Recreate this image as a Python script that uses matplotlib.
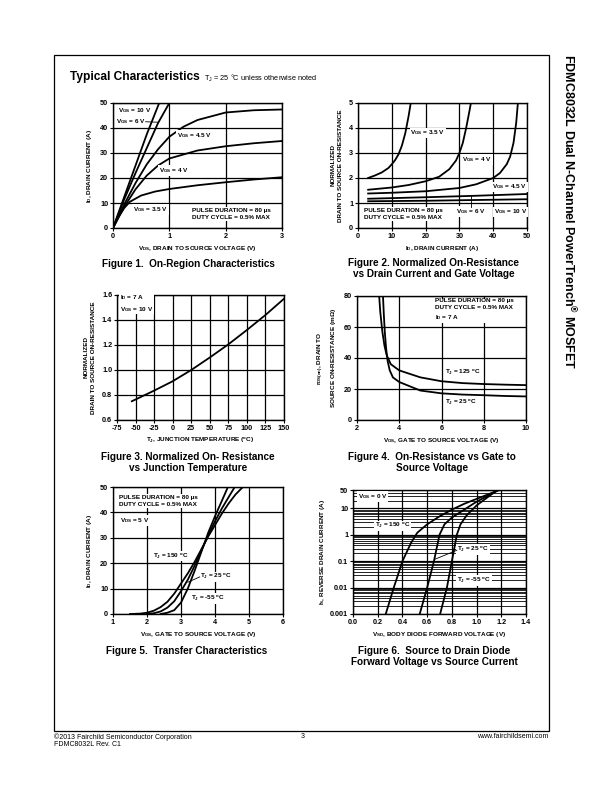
import numpy as np
import matplotlib
matplotlib.use('Agg')
import matplotlib.pyplot as plt
from matplotlib.patches import Rectangle

plt.rcParams['font.family'] = ['Liberation Sans', 'DejaVu Sans']
plt.rcParams['mathtext.fontset'] = 'custom'
plt.rcParams['mathtext.rm'] = 'Liberation Sans:bold'
plt.rcParams['mathtext.it'] = 'Liberation Sans:bold'
plt.rcParams['mathtext.bf'] = 'Liberation Sans:bold'
plt.rcParams['axes.unicode_minus'] = False

# ---- data ----
# fig 1: on-region
f1_vgs10_x = [0, 0.2, 0.4, 0.6, 0.82]
f1_vgs10_y = [0, 12.5, 25, 37.5, 50]
f1_vgs6_x = [0, 0.2, 0.4, 0.6, 0.8, 1.0]
f1_vgs6_y = [0, 11.5, 22, 32, 42, 50]
f1_vgs45_x = [0, 0.2, 0.4, 0.6, 0.8, 1.0, 1.25, 1.5, 2.0, 2.5, 3.0]
f1_vgs45_y = [0, 9.5, 18, 25.5, 31.5, 36.5, 40.5, 43.2, 46.2, 47.1, 47.4]
f1_vgs4_x = [0, 0.2, 0.4, 0.6, 0.8, 1.0, 1.5, 2.0, 2.5, 3.0]
f1_vgs4_y = [0, 8.5, 15.5, 21, 25, 27.8, 31, 32.7, 33.9, 34.8]
f1_vgs35_x = [0, 0.1, 0.2, 0.3, 0.5, 0.75, 1.0, 1.5, 2.0, 2.5, 3.0]
f1_vgs35_y = [0, 4.5, 8, 10.5, 13, 14.6, 15.6, 17.1, 18.3, 19.4, 20.3]

# fig 2: normalized rds(on) vs id
f2_vgs35_x = [3, 5, 7, 9, 10, 11, 12, 13, 14, 15, 15.6]
f2_vgs35_y = [2.0, 2.1, 2.22, 2.4, 2.55, 2.72, 2.95, 3.3, 3.8, 4.5, 5.0]
f2_vgs4_x = [3, 10, 15, 20, 24, 27, 29, 30, 31, 32, 33, 33.4]
f2_vgs4_y = [1.53, 1.62, 1.72, 1.87, 2.05, 2.35, 2.7, 3.0, 3.4, 4.0, 4.7, 5.0]
f2_vgs45_x = [3, 10, 20, 30, 35, 40, 42, 44, 45, 46, 46.8, 47.3]
f2_vgs45_y = [1.38, 1.41, 1.47, 1.6, 1.75, 2.0, 2.2, 2.55, 2.85, 3.4, 4.2, 5.0]
f2_vgs6_x = [3, 20, 35, 50]
f2_vgs6_y = [1.17, 1.23, 1.29, 1.36]
f2_vgs10_x = [3, 20, 35, 50]
f2_vgs10_y = [1.07, 1.09, 1.12, 1.15]

# fig 3: normalized rds(on) vs tj
f3_t = [-55, -25, 0, 25, 50, 75, 100, 125, 150]
f3_r = [0.75, 0.835, 0.91, 1.0, 1.1, 1.205, 1.32, 1.44, 1.57]

# fig 4: rds(on) vs vgs
f4_t125_x = [3.05, 3.1, 3.2, 3.3, 3.4, 3.6, 4, 5, 6, 7, 8, 9, 10]
f4_t125_y = [80, 70, 57, 48, 42, 36, 32, 27.5, 25, 23.8, 23.2, 22.8, 22.5]
f4_t25_x = [3.23, 3.27, 3.32, 3.38, 3.45, 3.55, 3.7, 4, 5, 6, 7, 8, 9, 10]
f4_t25_y = [80, 68, 56, 46, 38, 32, 27.5, 24.5, 19, 17.2, 16.4, 16, 15.5, 15.2]

# fig 5: transfer
f5_t150_x = [1.5, 1.8, 2.0, 2.2, 2.4, 2.6, 2.8, 3.0, 3.2, 3.4, 3.6, 3.8, 4.0, 4.2, 4.4, 4.6, 4.82]
f5_t150_y = [0, 0.15, 0.5, 1.3, 2.7, 4.8, 8, 12, 16, 20.5, 25.5, 30.5, 35, 39.5, 43.5, 47, 50]
f5_t25_x = [2.0, 2.2, 2.4, 2.6, 2.8, 3.0, 3.2, 3.4, 3.6, 3.8, 4.0, 4.2, 4.4, 4.58]
f5_t25_y = [0, 0.3, 1, 2.5, 5, 9, 13.5, 19, 25, 31, 36.5, 41.5, 46, 50]
f5_tm55_x = [2.4, 2.6, 2.8, 3.0, 3.2, 3.4, 3.6, 3.8, 4.0, 4.2, 4.38]
f5_tm55_y = [0, 0.5, 1.5, 4.5, 10, 17, 24.5, 32, 38.5, 44.5, 50]

# fig 6: body diode
f6_t150_x = [0.265, 0.33, 0.40, 0.47, 0.52, 0.6, 0.7, 0.8, 0.9, 1.0, 1.1, 1.18]
f6_t150_y = [0.001, 0.01, 0.1, 0.5, 1.2, 2.5, 5, 9, 15, 23, 35, 50]
f6_t25_x = [0.54, 0.60, 0.655, 0.70, 0.74, 0.8, 0.9, 1.0, 1.1, 1.18]
f6_t25_y = [0.001, 0.01, 0.1, 1, 2.5, 4.5, 9, 18, 32, 50]
f6_tm55_x = [0.705, 0.76, 0.80, 0.84, 0.87, 0.92, 1.0, 1.1, 1.17]
f6_tm55_y = [0.001, 0.01, 0.1, 1, 2.5, 5.5, 13, 29, 50]

W, H = 612, 792
fig = plt.figure(figsize=(W / 100, H / 100), dpi=100)

LW = 1.3
TK = 5.2     # tick font
LB = 4.6     # axis label font
AN = 4.6     # annotations
BOX = dict(facecolor='white', edgecolor='none', pad=0.6)


def axes_px(l, t, r, b):
    return fig.add_axes([l / W, 1 - b / H, (r - l) / W, (b - t) / H])


def style(ax):
    for s in ax.spines.values():
        s.set_linewidth(1.0)
    ax.grid(True, which='major', color='black', linewidth=0.9)
    ax.set_axisbelow(True)
    ax.tick_params(labelsize=TK, length=2, width=0.8, pad=1.5)
    for lab in ax.get_xticklabels() + ax.get_yticklabels():
        lab.set_fontweight('bold')


def note(ax, x, y, s, **kw):
    ax.text(x, y, s, fontsize=AN, fontweight='bold', bbox=BOX, zorder=5, **kw)


def caption(x, y, s):
    fig.text(x / W, 1 - y / H, s, fontsize=7.2, fontweight='bold', ha='center', va='top',
             linespacing=1.1)


# page frame and header
fig.patches.append(Rectangle((54 / W, 1 - 731 / H), (549 - 54) / W, (731 - 55) / H,
                             transform=fig.transFigure, fill=False, edgecolor='black', linewidth=0.9))
fig.text(70 / W, 1 - 77 / H, 'Typical Characteristics', fontsize=8.6, fontweight='bold', va='center')
fig.text(204 / W, 1 - 78 / H, r'T$_{\mathregular{J}}$ = 25 °C unless otherwise noted', fontsize=5.3, va='center')
fig.text(569 / W, 1 - 54 / H, 'FDMC8032L Dual N-Channel PowerTrench$^{\circledR}$ MOSFET', fontsize=9,
         fontweight='bold', rotation=-90, ha='center', va='top')
fig.text(54 / W, 1 - 737 / H, '©2013 Fairchild Semiconductor Corporation', fontsize=5, va='center')
fig.text(54 / W, 1 - 745 / H, 'FDMC8032L Rev. C1', fontsize=5, va='center')
fig.text(303 / W, 1 - 737 / H, '3', fontsize=5, va='center', ha='center')
fig.text(548 / W, 1 - 737 / H, 'www.fairchildsemi.com', fontsize=5, va='center', ha='right')

# ---- Figure 1 ----
ax = axes_px(113, 103, 282, 228)
for xs, ys in [(f1_vgs10_x, f1_vgs10_y), (f1_vgs6_x, f1_vgs6_y), (f1_vgs45_x, f1_vgs45_y),
               (f1_vgs4_x, f1_vgs4_y), (f1_vgs35_x, f1_vgs35_y)]:
    ax.plot(xs, ys, color='black', lw=LW, clip_on=True)
ax.set_xlim(0, 3)
ax.set_ylim(0, 50)
ax.set_xticks([0, 1, 2, 3])
ax.set_yticks([0, 10, 20, 30, 40, 50])
style(ax)
note(ax, 0.08, 46.8, r'V$_{\mathregular{GS}}$ = 10 V', va='center')
note(ax, 0.05, 42.5, r'V$_{\mathregular{GS}}$ = 6 V', va='center')
ax.plot([0.58, 0.8], [42.5, 42.3], color='black', lw=0.6, zorder=6)
note(ax, 1.14, 37, r'V$_{\mathregular{GS}}$ = 4.5 V', va='center')
note(ax, 0.82, 23, r'V$_{\mathregular{GS}}$ = 4 V', va='center')
note(ax, 0.35, 7.3, r'V$_{\mathregular{GS}}$ = 3.5 V', va='center')
note(ax, 1.4, 5.5, 'PULSE DURATION = 80 µs\nDUTY CYCLE = 0.5% MAX', va='center', linespacing=1.5)
ax.set_xlabel(r'V$_{\mathregular{DS}}$, DRAIN TO SOURCE VOLTAGE (V)', fontsize=LB, fontweight='bold', labelpad=3)
ax.set_ylabel(r'I$_{\mathregular{D}}$, DRAIN CURRENT (A)', fontsize=LB, fontweight='bold', labelpad=4)
caption(188, 259, 'Figure 1.  On-Region Characteristics')

# ---- Figure 2 ----
ax = axes_px(358, 103, 527, 228)
for xs, ys in [(f2_vgs35_x, f2_vgs35_y), (f2_vgs4_x, f2_vgs4_y), (f2_vgs45_x, f2_vgs45_y),
               (f2_vgs6_x, f2_vgs6_y), (f2_vgs10_x, f2_vgs10_y)]:
    ax.plot(xs, ys, color='black', lw=LW)
ax.set_xlim(0, 50)
ax.set_ylim(0, 5)
ax.set_xticks([0, 10, 20, 30, 40, 50])
ax.set_yticks([0, 1, 2, 3, 4, 5])
style(ax)
note(ax, 15.5, 3.8, r'V$_{\mathregular{GS}}$ = 3.5 V', va='center')
note(ax, 30.8, 2.73, r'V$_{\mathregular{GS}}$ = 4 V', va='center')
note(ax, 39.6, 1.64, r'V$_{\mathregular{GS}}$ = 4.5 V', va='center')
note(ax, 29, 0.67, r'V$_{\mathregular{GS}}$ = 6 V', va='center')
note(ax, 40.3, 0.64, r'V$_{\mathregular{GS}}$ = 10 V', va='center')
ax.plot([33.5, 33.5], [0.85, 1.27], color='black', lw=0.6, zorder=6)
note(ax, 1.7, 0.55, 'PULSE DURATION = 80 µs\nDUTY CYCLE = 0.5% MAX', va='center', linespacing=1.5)
ax.set_xlabel(r'I$_{\mathregular{D}}$, DRAIN CURRENT (A)', fontsize=LB, fontweight='bold', labelpad=3)
ax.set_ylabel('NORMALIZED\nDRAIN TO SOURCE ON-RESISTANCE', fontsize=LB, fontweight='bold', labelpad=4,
              linespacing=1.8)
caption(434, 258, 'Figure 2. Normalized On-Resistance\nvs Drain Current and Gate Voltage')

# ---- Figure 3 ----
ax = axes_px(117, 295, 284, 420)
ax.plot(f3_t, f3_r, color='black', lw=LW)
ax.set_xlim(-75, 150)
ax.set_ylim(0.6, 1.6)
ax.set_xticks(np.arange(-75, 151, 25))
ax.set_yticks([0.6, 0.8, 1.0, 1.2, 1.4, 1.6])
ax.set_yticklabels(['0.6', '0.8', '1.0', '1.2', '1.4', '1.6'])
style(ax)
note(ax, -71, 1.535, r'I$_{\mathregular{D}}$ = 7 A' + '\n' + r'V$_{\mathregular{GS}}$ = 10 V', va='center',
     linespacing=1.5)
ax.set_xlabel(r'T$_{\mathregular{J}}$, JUNCTION TEMPERATURE ($^{\mathregular{o}}$C)', fontsize=LB,
              fontweight='bold', labelpad=3)
ax.set_ylabel('NORMALIZED\nDRAIN TO SOURCE ON-RESISTANCE', fontsize=LB, fontweight='bold', labelpad=4,
              linespacing=1.8)
caption(188, 452, 'Figure 3. Normalized On- Resistance\nvs Junction Temperature')

# ---- Figure 4 ----
ax = axes_px(357, 296, 526, 420)
ax.plot(f4_t125_x, f4_t125_y, color='black', lw=LW)
ax.plot(f4_t25_x, f4_t25_y, color='black', lw=LW)
ax.set_xlim(2, 10)
ax.set_ylim(0, 80)
ax.set_xticks([2, 4, 6, 8, 10])
ax.set_yticks([0, 20, 40, 60, 80])
style(ax)
note(ax, 5.7, 71, 'PULSE DURATION = 80 µs\nDUTY CYCLE = 0.5% MAX\n' + r'I$_{\mathregular{D}}$ = 7 A',
     va='center', linespacing=1.5)
note(ax, 6.17, 30.7, r'T$_{\mathregular{J}}$ = 125 $^{\mathregular{o}}$C', va='center')
note(ax, 6.17, 11.4, r'T$_{\mathregular{J}}$ = 25 $^{\mathregular{o}}$C', va='center')
ax.set_xlabel(r'V$_{\mathregular{GS}}$, GATE TO SOURCE VOLTAGE (V)', fontsize=LB, fontweight='bold', labelpad=3)
ax.set_ylabel(r'r$_{\mathregular{DS(on)}}$, DRAIN TO' + '\n' + r'SOURCE ON-RESISTANCE (m$\mathregular{\Omega}$)',
              fontsize=LB, fontweight='bold', labelpad=4, linespacing=1.6)
caption(432, 452, 'Figure 4.  On-Resistance vs Gate to\nSource Voltage')

# ---- Figure 5 ----
ax = axes_px(113, 487, 283, 614)
for xs, ys in [(f5_t150_x, f5_t150_y), (f5_t25_x, f5_t25_y), (f5_tm55_x, f5_tm55_y)]:
    ax.plot(xs, ys, color='black', lw=LW)
ax.set_xlim(1, 6)
ax.set_ylim(0, 50)
ax.set_xticks([1, 2, 3, 4, 5, 6])
ax.set_yticks([0, 10, 20, 30, 40, 50])
style(ax)
note(ax, 1.18, 44.6, 'PULSE DURATION = 80 µs\nDUTY CYCLE = 0.5% MAX', va='center', linespacing=1.5)
note(ax, 1.2, 36.8, r'V$_{\mathregular{DS}}$ = 5 V', va='center')
note(ax, 2.18, 22.8, r'T$_{\mathregular{J}}$ = 150 $^{\mathregular{o}}$C', va='center')
note(ax, 3.55, 14.6, r'T$_{\mathregular{J}}$ = 25 $^{\mathregular{o}}$C', va='center')
ax.plot([3.2, 3.55], [12.5, 14.6], color='black', lw=0.6, zorder=6)
note(ax, 3.3, 6, r'T$_{\mathregular{J}}$ = -55 $^{\mathregular{o}}$C', va='center')
ax.set_xlabel(r'V$_{\mathregular{GS}}$, GATE TO SOURCE VOLTAGE (V)', fontsize=LB, fontweight='bold', labelpad=3)
ax.set_ylabel(r'I$_{\mathregular{D}}$, DRAIN CURRENT (A)', fontsize=LB, fontweight='bold', labelpad=4)
caption(187, 646, 'Figure 5.  Transfer Characteristics')

# ---- Figure 6 ----
ax = axes_px(353, 490, 526, 614)
for xs, ys in [(f6_t150_x, f6_t150_y), (f6_t25_x, f6_t25_y), (f6_tm55_x, f6_tm55_y)]:
    ax.plot(xs, ys, color='black', lw=LW)
ax.set_yscale('log')
ax.set_xlim(0, 1.4)
ax.set_ylim(0.001, 50)
ax.set_xticks(np.arange(0, 1.41, 0.2))
ax.set_xticklabels(['0.0', '0.2', '0.4', '0.6', '0.8', '1.0', '1.2', '1.4'])
ax.set_yticks([0.001, 0.01, 0.1, 1, 10, 50])
ax.set_yticklabels(['0.001', '0.01', '0.1', '1', '10', '50'])
ax.yaxis.set_minor_locator(matplotlib.ticker.LogLocator(base=10, subs=np.arange(2, 10)))
ax.yaxis.set_minor_formatter(matplotlib.ticker.NullFormatter())
ax.tick_params(which='minor', length=0)
ax.grid(True, which='minor', axis='y', color='black', linewidth=0.6)
style(ax)
note(ax, 0.04, 28, r'V$_{\mathregular{GS}}$ = 0 V', va='center')
note(ax, 0.175, 2.18, r'T$_{\mathregular{J}}$ = 150 $^{\mathregular{o}}$C', va='center')
note(ax, 0.84, 0.27, r'T$_{\mathregular{J}}$ = 25 $^{\mathregular{o}}$C', va='center')
ax.plot([0.665, 0.84], [0.12, 0.26], color='black', lw=0.6, zorder=6)
note(ax, 0.84, 0.018, r'T$_{\mathregular{J}}$ = -55 $^{\mathregular{o}}$C', va='center')
ax.set_xlabel(r'V$_{\mathregular{SD}}$, BODY DIODE FORWARD VOLTAGE (V)', fontsize=LB, fontweight='bold', labelpad=3)
ax.set_ylabel(r'I$_{\mathregular{S}}$, REVERSE DRAIN CURRENT (A)', fontsize=LB, fontweight='bold', labelpad=2)
caption(434, 646, 'Figure 6.  Source to Drain Diode\nForward Voltage vs Source Current')

fig.savefig('out.png', dpi=100)
